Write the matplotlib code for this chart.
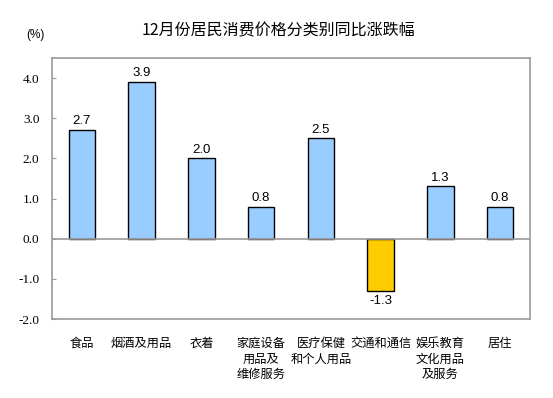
import matplotlib
matplotlib.use("Agg")
import matplotlib.pyplot as plt

categories = ["食品", "烟酒及用品", "衣着", "家庭设备\n用品及\n维修服务", "医疗保健\n和个人用品",
              "交通和通信", "娱乐教育\n文化用品\n及服务", "居住"]
values = [2.7, 3.9, 2.0, 0.8, 2.5, -1.3, 1.3, 0.8]
yticks = [-2.0, -1.0, 0.0, 1.0, 2.0, 3.0, 4.0]
title = "12月份居民消费价格分类别同比涨跌幅"

CJK = ["Noto Sans CJK SC", "DejaVu Sans"]
plt.rcParams["font.family"] = CJK

fig = plt.figure(figsize=(5.53, 3.98), dpi=100)
ax = fig.add_axes([52/553, 1-319/398, (530-52)/553, (319-58)/398])

x = list(range(len(values)))
colors = ["#99CCFF" if v >= 0 else "#FFCC00" for v in values]
ax.bar(x, values, width=0.44, color=colors, edgecolor="black", linewidth=1.0, zorder=2)
ax.axhline(0, color="#999999", linewidth=1.2, zorder=3)

for xi, v in zip(x, values):
    if v >= 0:
        ax.annotate(f"{v:.1f}", (xi, v), xytext=(0, 2), textcoords="offset points",
                    ha="center", va="bottom", fontsize=9.5, family=["Liberation Sans"])
    else:
        ax.annotate(f"{v:.1f}", (xi, v), xytext=(0, -3), textcoords="offset points",
                    ha="center", va="top", fontsize=9.5, family=["Liberation Sans"])

ax.set_xlim(-0.5, len(values) - 0.5)
ax.set_ylim(-2.0, 4.5)
ax.set_yticks(yticks)
ax.set_yticklabels([f"{t:.1f}" for t in yticks], family=["Liberation Serif"], fontsize=9.5)
ax.tick_params(axis="y", direction="in", length=3, color="#999999", pad=9)
ax.set_xticks(x)
ax.set_xticklabels(categories, fontsize=8.8, linespacing=1.25)
ax.tick_params(axis="x", length=0, pad=13)
for s in ax.spines.values():
    s.set_color("#999999")
    s.set_linewidth(1.2)

fig.text(278/553, 1-31/398, title, ha="center", va="center", fontsize=11.5)
fig.text(35/553, 1-35/398, "(%)", ha="center", va="center", fontsize=8.5, family=["Liberation Sans"])

fig.savefig("out.png", dpi=100)
